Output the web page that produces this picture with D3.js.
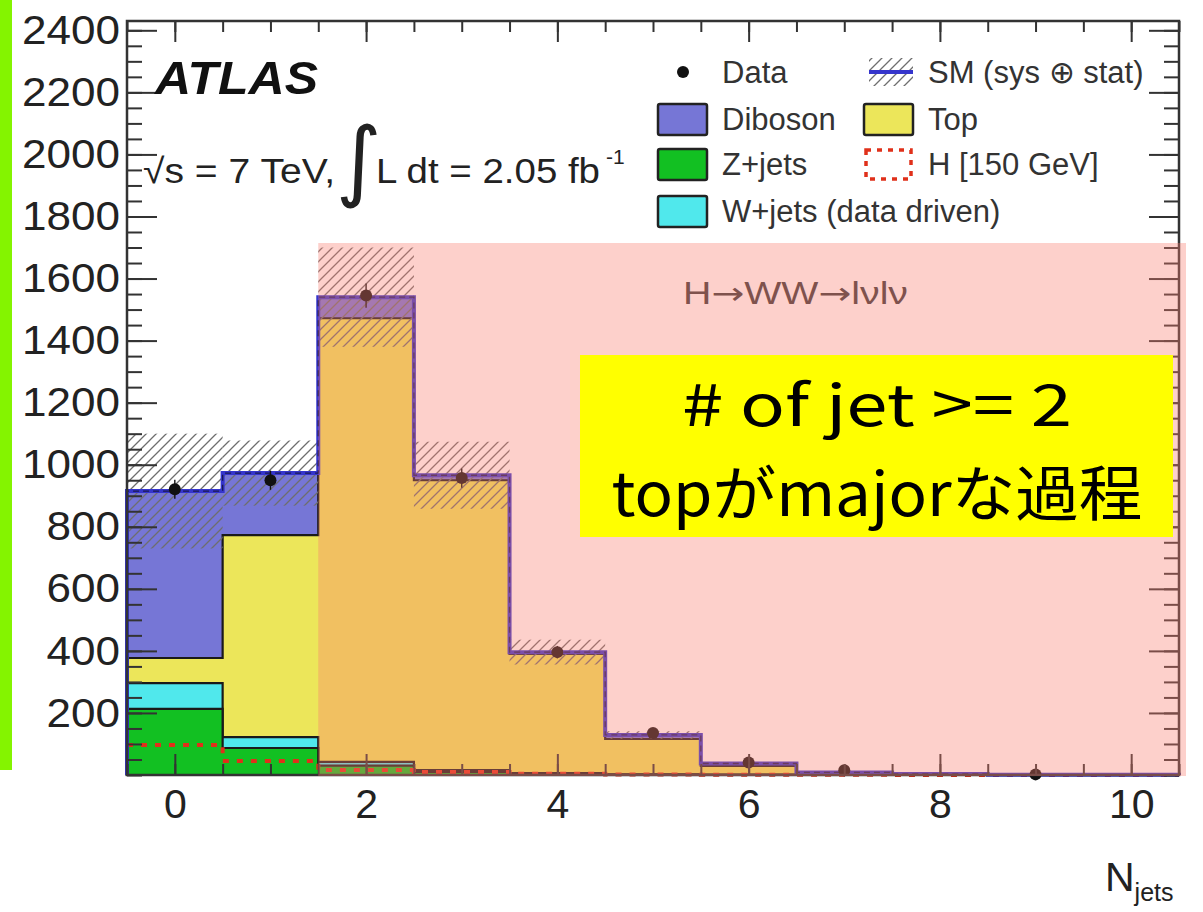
<!DOCTYPE html>
<html>
<head>
<meta charset="utf-8">
<script src="https://cdn.jsdelivr.net/npm/d3@7"></script>
<style>
  html, body { margin: 0; padding: 0; background: #fff; }
  svg { display: block; }
  .tick text { font-family: "Liberation Sans", Arial, sans-serif; fill: #222; }
</style>
</head>
<body>
<script>
// Jet multiplicity bins
const nJets = [0, 1, 2, 3, 4, 5, 6, 7, 8, 9, 10];

// Observed events per bin (0 = no entry drawn)
const dataCounts = [921, 950, 1545, 957, 396, 135, 40, 15, 0, 2, 0];

// Background expectations, stacked bottom to top
const zJets   = [213, 87, 30, 10, 4, 1, 0.5, 0.2, 0.1, 0, 0];
const wJets   = [83, 35, 12, 6, 2, 1, 0.5, 0.2, 0.1, 0, 0];
const topBkg  = [81, 651, 1430, 934, 384, 114, 28, 5, 2, 0.7, 0.3];
const diboson = [538, 200, 68, 16, 6, 13, 8, 3, 1, 0.3, 0.2];

// Total SM uncertainty (sys + stat) per bin
const smUnc = [185, 105, 160, 108, 40, 12, 5, 2, 1, 0.5, 0.3];

// Higgs signal, m_H = 150 GeV (overlaid, not stacked)
const higgs150 = [97, 45, 16, 10, 4, 2, 1, 0.5, 0.2, 0.1, 0];

// Axis tick labels
const xTickLabels = [0, 2, 4, 6, 8, 10];
const yTickLabels = [200, 400, 600, 800, 1000, 1200, 1400, 1600, 1800, 2000, 2200, 2400];

// Legend entries
const legendEntries = [
  { label: "Data", kind: "data", col: 0, row: 0 },
  { label: "SM (sys \u2295 stat)", kind: "sm", col: 1, row: 0 },
  { label: "Diboson", kind: "box", color: "#7676d6", col: 0, row: 1 },
  { label: "Top", kind: "box", color: "#ece65a", col: 1, row: 1 },
  { label: "Z+jets", kind: "box", color: "#12c022", col: 0, row: 2 },
  { label: "H [150 GeV]", kind: "higgs", col: 1, row: 2 },
  { label: "W+jets (data driven)", kind: "box", color: "#50e8ec", col: 0, row: 3 }
];

const W = 1203, H = 912;
const plot = { left: 127, right: 1179, top: 21, bottom: 775 };

const svg = d3.select("body").append("svg").attr("width", W).attr("height", H);

const x = d3.scaleLinear().domain([-0.5, 10.5]).range([plot.left, plot.right]);
const y = d3.scaleLinear().domain([0, 2430]).range([plot.bottom, plot.top]);

// Hatch pattern for the uncertainty band
const defs = svg.append("defs");
const pat = defs.append("pattern")
  .attr("id", "hatch").attr("patternUnits", "userSpaceOnUse")
  .attr("width", 10).attr("height", 10);
pat.append("path")
  .attr("d", "M-2,2 L2,-2 M0,10 L10,0 M8,12 L12,8")
  .attr("stroke", "#6e6e6e").attr("stroke-width", 1.3);

// Green marker bar on the left edge
svg.append("rect").attr("x", 0).attr("y", 0).attr("width", 12).attr("height", 770)
  .attr("fill", "#84f400");

// Step outline over all bins
function stepPoints(vals) {
  const pts = [];
  vals.forEach((v, i) => {
    pts.push([x(nJets[i] - 0.5), y(v)]);
    pts.push([x(nJets[i] + 0.5), y(v)]);
  });
  return pts;
}
const line = d3.line();

// Cumulative stack layers
const layers = [
  { vals: zJets, color: "#12c022" },
  { vals: wJets, color: "#50e8ec" },
  { vals: topBkg, color: "#ece65a" },
  { vals: diboson, color: "#7676d6" }
];
let cum = nJets.map(() => 0);
layers.forEach(l => {
  cum = cum.map((c, i) => c + l.vals[i]);
  l.cum = cum.slice();
});
const total = layers[layers.length - 1].cum;

const gStack = svg.append("g");
layers.slice().reverse().forEach(l => {
  const pts = stepPoints(l.cum);
  const poly = [[x(-0.5), y(0)], ...pts, [x(10.5), y(0)]];
  gStack.append("path")
    .attr("d", line(poly) + "Z")
    .attr("fill", l.color)
    .attr("stroke", "#1a1a1a").attr("stroke-width", 2.2);
});

// Higgs signal as dashed step line
svg.append("path")
  .attr("d", line(stepPoints(higgs150)))
  .attr("fill", "none").attr("stroke", "#e0301a")
  .attr("stroke-width", 4).attr("stroke-dasharray", "6,8");

// Uncertainty band
svg.append("g").selectAll("rect").data(nJets).join("rect")
  .attr("x", d => x(d - 0.5))
  .attr("width", d => x(d + 0.5) - x(d - 0.5))
  .attr("y", (d, i) => y(total[i] + smUnc[i]))
  .attr("height", (d, i) => y(Math.max(0, total[i] - smUnc[i])) - y(total[i] + smUnc[i]))
  .attr("fill", "url(#hatch)");

// Total SM line
const totPts = [[x(-0.5), y(0)], ...stepPoints(total), [x(10.5), y(0)]];
svg.append("path").attr("d", line(totPts))
  .attr("fill", "none").attr("stroke", "#3535cc").attr("stroke-width", 4);
svg.append("path").attr("d", line(totPts))
  .attr("fill", "none").attr("stroke", "#1a1a50").attr("stroke-width", 1.3)
  .attr("stroke-dasharray", "6,4");

// Data points with Poisson error bars
const dataIdx = nJets.filter((d, i) => dataCounts[i] > 0);
const gData = svg.append("g");
gData.selectAll("line").data(dataIdx).join("line")
  .attr("x1", d => x(d)).attr("x2", d => x(d))
  .attr("y1", d => y(dataCounts[d] + Math.sqrt(dataCounts[d])))
  .attr("y2", d => y(Math.max(0, dataCounts[d] - Math.sqrt(dataCounts[d]))))
  .attr("stroke", "#111").attr("stroke-width", 1.4);
gData.selectAll("circle").data(dataIdx).join("circle")
  .attr("cx", d => x(d)).attr("cy", d => y(dataCounts[d]))
  .attr("r", 6).attr("fill", "#111");

// Axes: ticks drawn inward on all four sides
function drawAxis(gen, tx, ty, fontSize) {
  const g = svg.append("g").attr("transform", `translate(${tx},${ty})`).call(gen);
  g.select(".domain").remove();
  g.selectAll(".tick line").attr("stroke", "#333").attr("stroke-width", 2);
  g.selectAll(".tick text").style("font-size", fontSize + "px");
  return g;
}
const yMinor = d3.range(0, 2430, 50);
const xMinor = d3.range(-0.5, 10.6, 0.5);

drawAxis(d3.axisLeft(y).tickValues(yMinor).tickSize(-15).tickFormat(""), plot.left, 0, 0);
const yAx = drawAxis(d3.axisLeft(y).tickValues(yTickLabels).tickSize(-30).tickPadding(7).tickFormat(d3.format("d")), plot.left, 0, 41);
yAx.selectAll(".tick text").attr("textLength", d => String(d).length * 24.5).attr("lengthAdjust", "spacingAndGlyphs");
drawAxis(d3.axisRight(y).tickValues(yMinor).tickSize(-15).tickFormat(""), plot.right, 0, 0);
drawAxis(d3.axisRight(y).tickValues(yTickLabels).tickSize(-30).tickFormat(""), plot.right, 0, 0);
drawAxis(d3.axisTop(x).tickValues(xMinor).tickSize(-11).tickFormat(""), 0, plot.top, 0);
drawAxis(d3.axisTop(x).tickValues(xTickLabels).tickSize(-21).tickFormat(""), 0, plot.top, 0);
drawAxis(d3.axisBottom(x).tickValues(xMinor).tickSize(-11).tickFormat(""), 0, plot.bottom, 0);
drawAxis(d3.axisBottom(x).tickValues(xTickLabels).tickSize(-21).tickPadding(14).tickFormat(d3.format("d")), 0, plot.bottom, 41);

svg.append("rect")
  .attr("x", plot.left).attr("y", plot.top)
  .attr("width", plot.right - plot.left).attr("height", plot.bottom - plot.top)
  .attr("fill", "none").attr("stroke", "#333").attr("stroke-width", 2.5);

// Axis title
const xt = svg.append("text").attr("x", 1105).attr("y", 891)
  .attr("font-family", "Liberation Sans, Arial, sans-serif").attr("fill", "#222");
xt.append("tspan").attr("font-size", 41).text("N");
xt.append("tspan").attr("font-size", 25).attr("dy", 10).text("jets");

// ATLAS label and luminosity
const font = "Liberation Sans, Arial, sans-serif";
svg.append("text").attr("x", 155).attr("y", 94)
  .attr("font-family", font).attr("font-size", 47)
  .attr("font-weight", "bold").attr("font-style", "italic").attr("fill", "#111")
  .attr("textLength", 163).attr("lengthAdjust", "spacingAndGlyphs")
  .text("ATLAS");
svg.append("text").attr("x", 143).attr("y", 183)
  .attr("font-family", font).attr("font-size", 35).attr("fill", "#222")
  .attr("textLength", 192).attr("lengthAdjust", "spacingAndGlyphs")
  .text("\u221As = 7 TeV,");
svg.append("text").attr("x", 336).attr("y", 190)
  .attr("font-family", "DejaVu Sans, sans-serif").attr("font-size", 88).attr("fill", "#222")
  .text("\u222B");
svg.append("text").attr("x", 376).attr("y", 183)
  .attr("font-family", font).attr("font-size", 35).attr("fill", "#222")
  .attr("textLength", 224).attr("lengthAdjust", "spacingAndGlyphs")
  .text("L dt = 2.05 fb");
svg.append("text").attr("x", 606).attr("y", 164)
  .attr("font-family", font).attr("font-size", 21).attr("fill", "#222")
  .text("-1");

// Legend
const legX = [657, 863], legY = [72, 119, 164, 211];
const gLeg = svg.append("g");
legendEntries.forEach(e => {
  const lx = legX[e.col], ly = legY[e.row];
  if (e.kind === "data") {
    gLeg.append("circle").attr("cx", lx + 26).attr("cy", ly).attr("r", 6).attr("fill", "#111");
  } else if (e.kind === "sm") {
    gLeg.append("rect").attr("x", lx + 6).attr("y", ly - 14).attr("width", 44).attr("height", 28)
      .attr("fill", "url(#hatch)");
    gLeg.append("line").attr("x1", lx + 6).attr("x2", lx + 50).attr("y1", ly).attr("y2", ly)
      .attr("stroke", "#3535cc").attr("stroke-width", 4);
  } else if (e.kind === "box") {
    gLeg.append("rect").attr("x", lx + 1).attr("y", ly - 15).attr("width", 49).attr("height", 31)
      .attr("rx", 2).attr("fill", e.color).attr("stroke", "#222").attr("stroke-width", 2.5);
  } else if (e.kind === "higgs") {
    gLeg.append("rect").attr("x", lx + 3).attr("y", ly - 14).attr("width", 45).attr("height", 29)
      .attr("fill", "none").attr("stroke", "#e0301a").attr("stroke-width", 3.5)
      .attr("stroke-dasharray", "5,6");
  }
  gLeg.append("text").attr("x", lx + 65).attr("y", ly + 11)
    .attr("font-family", font).attr("font-size", 31).attr("fill", "#333")
    .text(e.label);
});

// Channel label
const ch = svg.append("text").attr("x", 683).attr("y", 304)
  .attr("font-family", font).attr("font-size", 31).attr("fill", "#3a3a3a")
  .attr("textLength", 225).attr("lengthAdjust", "spacingAndGlyphs");
ch.append("tspan").text("H");
ch.append("tspan").attr("font-family", "DejaVu Sans, sans-serif").text("\u2192");
ch.append("tspan").text("WW");
ch.append("tspan").attr("font-family", "DejaVu Sans, sans-serif").text("\u2192");
ch.append("tspan").text("l\u03BDl\u03BD");

// Highlighted region for N_jets >= 2
svg.append("rect")
  .attr("x", x(1.5)).attr("y", 243)
  .attr("width", 1186 - x(1.5)).attr("height", plot.bottom + 1 - 243)
  .attr("fill", "rgb(250,125,110)").attr("fill-opacity", 0.36);

// Annotation box
svg.append("rect").attr("x", 580).attr("y", 355).attr("width", 593).attr("height", 182)
  .attr("fill", "#ffff00");
const jp = "Noto Sans CJK JP, sans-serif";
svg.append("text").attr("x", 877).attr("y", 426)
  .attr("text-anchor", "middle").attr("font-family", jp).attr("font-size", 58)
  .attr("textLength", 390).attr("lengthAdjust", "spacingAndGlyphs")
  .attr("fill", "#000").text("# of jet >= 2");
svg.append("text").attr("x", 877).attr("y", 516)
  .attr("text-anchor", "middle").attr("font-family", jp).attr("font-size", 60)
  .attr("textLength", 531).attr("lengthAdjust", "spacingAndGlyphs")
  .attr("fill", "#000").text("top\u304Cmajor\u306A\u904E\u7A0B");
</script>
</body>
</html>
